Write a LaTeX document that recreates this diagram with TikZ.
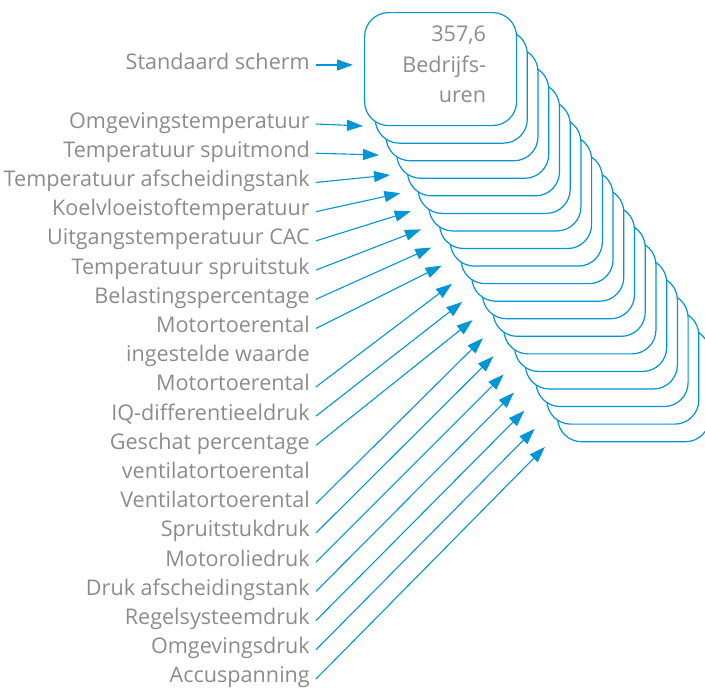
\documentclass[tikz,border=0pt]{standalone}
\usepackage{fontspec}
\setmainfont{Open Sans}
\usetikzlibrary{arrows.meta, positioning, calc}
\definecolor{scrblue}{RGB}{0,150,214}
\definecolor{lblgray}{RGB}{140,140,140}
\tikzset{
  card/.style={draw=scrblue, fill=white, line width=1.2pt, rounded corners=24pt,
    minimum width=152pt, minimum height=113pt, inner sep=0pt, anchor=north west},
  lbl/.style={text=lblgray, anchor=base east, inner sep=0pt, font=\fontsize{21.6}{30}\selectfont},
  arr/.style={draw=scrblue, line width=1.1pt, -{Triangle[length=16pt,width=11pt]}}
}
\begin{document}
\begin{tikzpicture}[x=1pt, y=-1pt]
  \useasboundingbox (0,0) rectangle (705,689);
  \clip (0,0) rectangle (705,689);

  % stack of screens, back to front
  \foreach \i in {18,17,...,1}
    \node[card] (c\i) at ({364+10.72*\i}, {12+17.56*\i}) {};
  \node[card] (c0) at (364,12) {};
  \node[lbl, anchor=north east, align=right, font=\fontsize{21.6}{30.5}\selectfont]
    (uren) at ([xshift=-31pt,yshift=-14pt]c0.north east) {357,6\\Bedrijfs-\\uren};

  % arrow tips
  \coordinate (t0) at (353,65);
  \coordinate (t1) at (363,126);
  \coordinate (t2) at (379,155);
  \foreach \i in {3,...,18}
    \coordinate (t\i) at ({390+10.33*(\i-3)}, {175+18.13*(\i-3)});

  % labels
  \node[lbl] (std) at (310,69) {Standaard scherm};
  \foreach \txt [count=\k] in {Omgevingstemperatuur, Temperatuur spuitmond,
      Temperatuur afscheidingstank, Koelvloeistoftemperatuur, Uitgangstemperatuur CAC,
      Temperatuur spruitstuk, Belastingspercentage, Motortoerental, ingestelde waarde,
      Motortoerental, IQ-differentieeldruk, Geschat percentage, ventilatortoerental,
      Ventilatortoerental, Spruitstukdruk, Motoroliedruk, Druk afscheidingstank,
      Regelsysteemdruk, Omgevingsdruk, Accuspanning}
    \node[lbl] (l\k) at (310, {128+29.21*(\k-1)}) {\txt};

  \draw[arr] ([xshift=6pt,yshift=4pt]std.base east) -- (t0);
  \foreach \k/\i in {1/1,2/2,3/3,4/4,5/5,6/6,7/7,8/8,10/9,11/10,12/11,
      14/12,15/13,16/14,17/15,18/16,19/17,20/18}
    \draw[arr] ([xshift=6pt,yshift=4pt]l\k.base east) -- (t\i);
\end{tikzpicture}
\end{document}
